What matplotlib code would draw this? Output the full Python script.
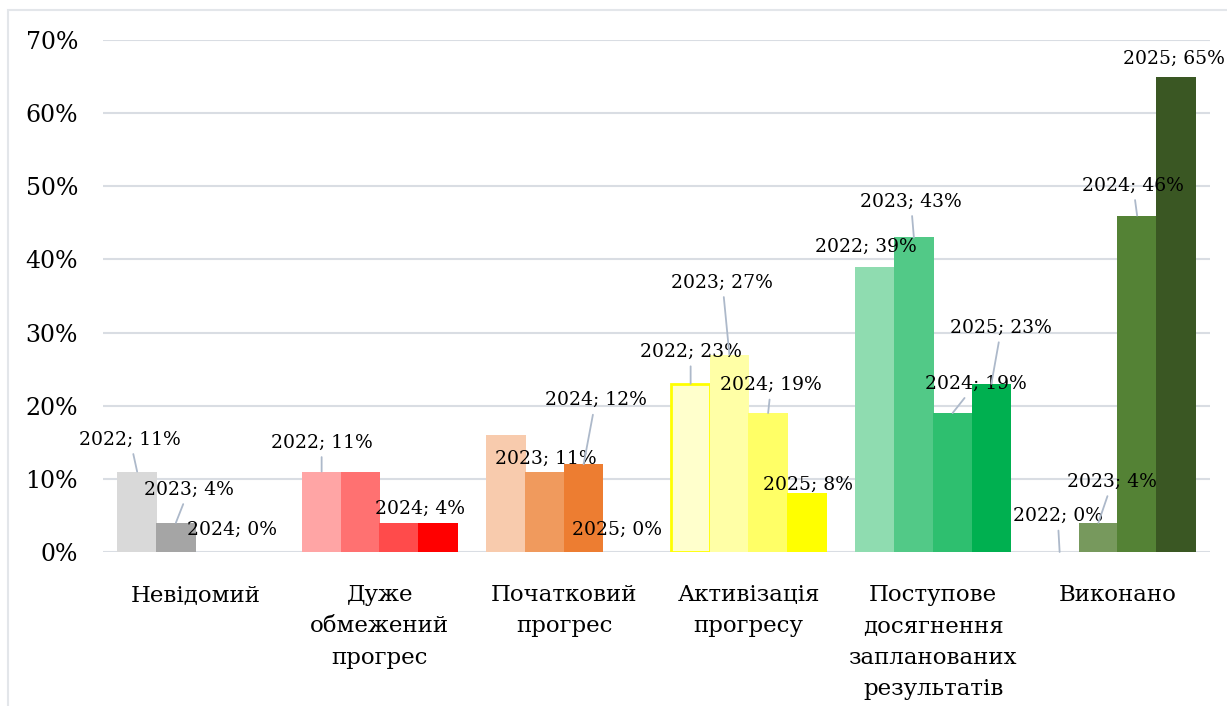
import numpy as np
import matplotlib.pyplot as plt
from matplotlib.patches import Rectangle
from matplotlib.ticker import PercentFormatter

# categories of progress (x axis)
categories = ['Невідомий', 'Дуже\nобмежений\nпрогрес', 'Початковий\nпрогрес',
              'Активізація\nпрогресу', 'Поступове\nдосягнення\nзапланованих\nрезультатів',
              'Виконано']
years = ['2022', '2023', '2024', '2025']

# share per year, in percent (None = no bar)
v2022 = [11, 11, 16, 23, 39, 0]
v2023 = [4, 11, 11, 27, 43, 4]
v2024 = [0, 4, 12, 19, 19, 46]
v2025 = [None, 4, 0, 8, 23, 65]
values = [v2022, v2023, v2024, v2025]

# one colour per bar: rows = category, cols = year
bar_colors = [
    ['#d9d9d9', '#a5a5a5', '#7f7f7f', '#595959'],
    ['#ffa5a5', '#ff7171', '#ff4b4b', '#ff0000'],
    ['#f8cbad', '#f09a5d', '#ed7d31', '#c55a11'],
    ['#ffffcc', '#ffffa6', '#ffff66', '#ffff00'],
    ['#8fdcb0', '#52c987', '#2ebf6f', '#00b050'],
    ['#a9d18e', '#77995d', '#548235', '#3a5723'],
]

# which data labels are shown (Excel hides a couple of them)
show_label = [
    [True, True, False, True, True, True],
    [True, False, True, True, True, True],
    [True, True, True, True, True, True],
    [False, False, True, True, True, True],
]
# label offsets in pixels from the bar top (dx, dy) and leader line flag
label_dx = [
    [-7, 0, 8, 0, -9, -2],
    [13, 0, 1, -7, -3, 14],
    [17, 21, 12, 3, 23, -4],
    [0, 0, -5, 1, 10, -2],
]
label_dy = [
    [32, 29, 14, 32, 20, 36],
    [33, 0, 13, 72, 36, 41],
    [22, 14, 64, 28, 29, 30],
    [0, 0, 22, 9, 56, 18],
]
leader = [
    [True, True, False, True, False, True],
    [True, False, False, True, True, True],
    [False, False, True, True, True, True],
    [False, False, False, False, True, False],
]

fig = plt.figure(figsize=(12.27, 7.06), dpi=100)
ax = fig.add_axes([103 / 1227, 1 - 552 / 706, 1107 / 1227, 512 / 706])

# light frame round the chart area
fig.patches.append(Rectangle((8 / 1227, -0.1), 1.2, 1 - 10 / 706 + 0.1,
                             transform=fig.transFigure, fill=False,
                             edgecolor='#e3e6ea', linewidth=1.5))

x = np.arange(len(categories))
step = 0.21
width = 0.215
for j, series in enumerate(values):
    for i, v in enumerate(series):
        if v is None:
            continue
        xi = x[i] + (j - 1.5) * step
        edge = '#ffff00' if (i == 3 and j == 0) else 'none'
        lw = 2 if edge != 'none' else 0
        ax.bar(xi, v / 100, width=width, color=bar_colors[i][j],
               edgecolor=edge, linewidth=lw, zorder=2 + j)
        if not show_label[j][i]:
            continue
        arrow = None
        if leader[j][i]:
            arrow = dict(arrowstyle='-', color='#adb9ca', lw=1.3,
                         shrinkA=2, shrinkB=0)
        ax.annotate(f'{years[j]}; {v}%', xy=(xi, v / 100),
                    xytext=(label_dx[j][i], label_dy[j][i]),
                    textcoords='offset pixels', ha='center', va='center',
                    fontsize=13.5, family='DejaVu Serif', color='#000000',
                    arrowprops=arrow, zorder=10)

ax.set_xlim(-0.5, len(categories) - 0.5)
ax.set_ylim(0, 0.7)
ax.set_yticks(np.arange(0, 0.71, 0.1))
ax.yaxis.set_major_formatter(PercentFormatter(1.0, decimals=0))
ax.set_xticks(x)
ax.set_xticklabels(categories, family='DejaVu Serif', fontsize=16.5,
                   linespacing=1.55, va='top')
for lab in ax.get_yticklabels():
    lab.set_family('DejaVu Serif')
    lab.set_fontsize(17)
ax.tick_params(axis='both', length=0)
ax.tick_params(axis='y', pad=18)
ax.tick_params(axis='x', pad=23)
ax.grid(axis='y', color='#d9dde3', linewidth=1.5, zorder=0)
ax.set_axisbelow(True)
for s in ax.spines.values():
    s.set_visible(False)

fig.savefig('out.png', dpi=100)
